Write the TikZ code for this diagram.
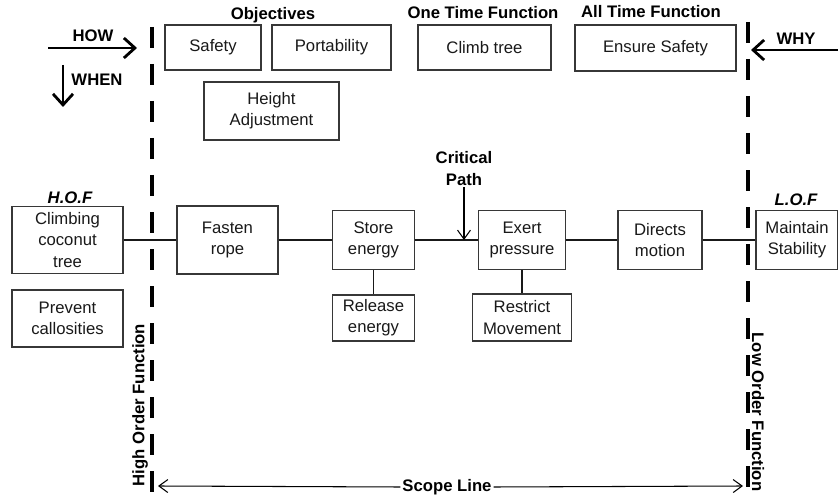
\documentclass[tikz,border=0pt]{standalone}
\usepackage{fontspec}
\setsansfont{Liberation Sans}
\usetikzlibrary{arrows.meta, positioning}
\definecolor{boxline}{RGB}{55, 55, 55}
\definecolor{textdark}{RGB}{25, 25, 25}

\begin{document}
\begin{tikzpicture}[
    func/.style={rectangle, draw=boxline, fill=white, minimum width=1.7cm, minimum height=1.18cm, align=center, inner sep=1pt, font=\fontsize{9.5}{12}\selectfont\sffamily, line width=0.7pt, text=textdark},
    heading/.style={font=\fontsize{9.5}{12}\selectfont\sffamily\bfseries, text=black, align=center, inner sep=1pt},
    scopeline/.style={line width=2.8pt, dash pattern=on 0.42cm off 0.32cm},
    link/.style={line width=0.7pt, color=textdark},
    bigarrow/.style={-{Straight Barb[length=2.2mm, width=4mm]}, line width=1.6pt},
    thinarrow/.style={-{Straight Barb[length=1.8mm, width=2.6mm]}, line width=0.6pt},
]
\useasboundingbox (0,0) rectangle (16.76,-9.96);

% Directions
\coordinate (howstart) at (0.96,-0.96);
\coordinate (howend) at (2.74,-0.96);
\draw[bigarrow] (howstart) -- (howend);
\node[heading] (how) at (1.86,-0.72) {HOW};
\coordinate (whenstart) at (1.26,-1.30);
\coordinate (whenend) at (1.26,-2.14);
\draw[bigarrow] (whenstart) -- (whenend);
\node[heading] (when) at (1.94,-1.60) {WHEN};
\coordinate (whystart) at (16.80,-1.00);
\coordinate (whyend) at (15.02,-1.00);
\draw[bigarrow] (whystart) -- (whyend);
\node[heading] (why) at (15.92,-0.78) {WHY};

% Scope lines
\coordinate (hoftop) at (3.04,-0.54);
\coordinate (hofbot) at (3.04,-9.84);
\coordinate (loftop) at (14.96,-0.44);
\coordinate (lofbot) at (14.96,-9.84);
\draw[scopeline] (hoftop) -- (hofbot);
\draw[scopeline] (loftop) -- (lofbot);
\node[heading, rotate=90] (hoflabel) at (2.80,-8.10) {High Order Function};
\node[heading, rotate=-90] (loflabel) at (15.16,-8.24) {Low Order Function};

% Scope line label
\node[heading] (scope) at (8.94,-9.74) {Scope Line};
\coordinate (scopeL) at (3.16,-9.72);
\coordinate (scopeR) at (14.86,-9.72);
\draw[thinarrow] (scope.west) -- (scopeL);
\draw[thinarrow] (scope.east) -- (scopeR);

% Objectives
\node[heading] (objectives) at (5.46,-0.30) {Objectives};
\node[func, minimum width=1.92cm, minimum height=0.9cm] (safety) at (4.26,-0.95) {Safety};
\node[func, minimum width=2.38cm, minimum height=0.9cm] (portability) at (6.63,-0.95) {Portability};
\node[func, minimum width=2.7cm, minimum height=1.16cm] (height) at (5.43,-2.22) {Height\\Adjustment};

% One time and all time functions
\node[heading] (onetime) at (9.66,-0.26) {One Time Function};
\node[func, minimum width=2.66cm, minimum height=0.9cm, line width=1.1pt] (climb) at (9.69,-0.95) {Climb tree};
\node[heading] (alltime) at (13.02,-0.24) {All Time Function};
\node[func, minimum width=3.22cm, minimum height=0.92cm] (ensure) at (13.11,-0.96) {Ensure Safety};

% Higher and lower order functions
\node[heading, font=\fontsize{9.5}{12}\selectfont\sffamily\bfseries\itshape] (hof) at (1.40,-3.96) {H.O.F};
\node[heading, font=\fontsize{9.5}{12}\selectfont\sffamily\bfseries\itshape] (lof) at (15.92,-4.00) {L.O.F};
\node[func, minimum width=2.22cm, minimum height=1.34cm] (coconut) at (1.35,-4.80) {Climbing\\coconut\\tree};
\node[func, minimum width=2.22cm, minimum height=1.14cm] (prevent) at (1.35,-6.37) {Prevent\\callosities};
\node[func, minimum width=1.64cm] (maintain) at (15.94,-4.80) {Maintain\\Stability};

% Critical path
\node[func, minimum width=2.02cm, minimum height=1.36cm] (fasten) at (4.55,-4.80) {Fasten\\rope};
\node[func, minimum width=1.64cm] (store) at (7.47,-4.80) {Store\\energy};
\node[func, minimum width=1.74cm] (exert) at (10.44,-4.80) {Exert\\pressure};
\node[func, minimum width=1.68cm] (directs) at (13.20,-4.80) {Directs\\motion};

% Supporting functions
\node[func, minimum width=1.64cm, minimum height=0.92cm, line width=1.1pt] (release) at (7.47,-6.36) {Release\\energy};
\node[func, minimum width=1.98cm, minimum height=0.94cm, line width=1.1pt] (restrict) at (10.44,-6.35) {Restrict\\Movement};

% Links
\draw[link] (coconut) -- (fasten);
\draw[link] (fasten) -- (store);
\draw[link] (store) -- (exert);
\draw[link] (exert) -- (directs);
\draw[link] (directs) -- (maintain);
\draw[link] (store) -- (release);
\draw[link] (exert) -- (restrict);

% Critical path marker
\node[heading] (critical) at (9.28,-3.37) {Critical\\Path};
\coordinate (critend) at (9.28,-4.80);
\draw[thinarrow] (critical) -- (critend);

\end{tikzpicture}
\end{document}
